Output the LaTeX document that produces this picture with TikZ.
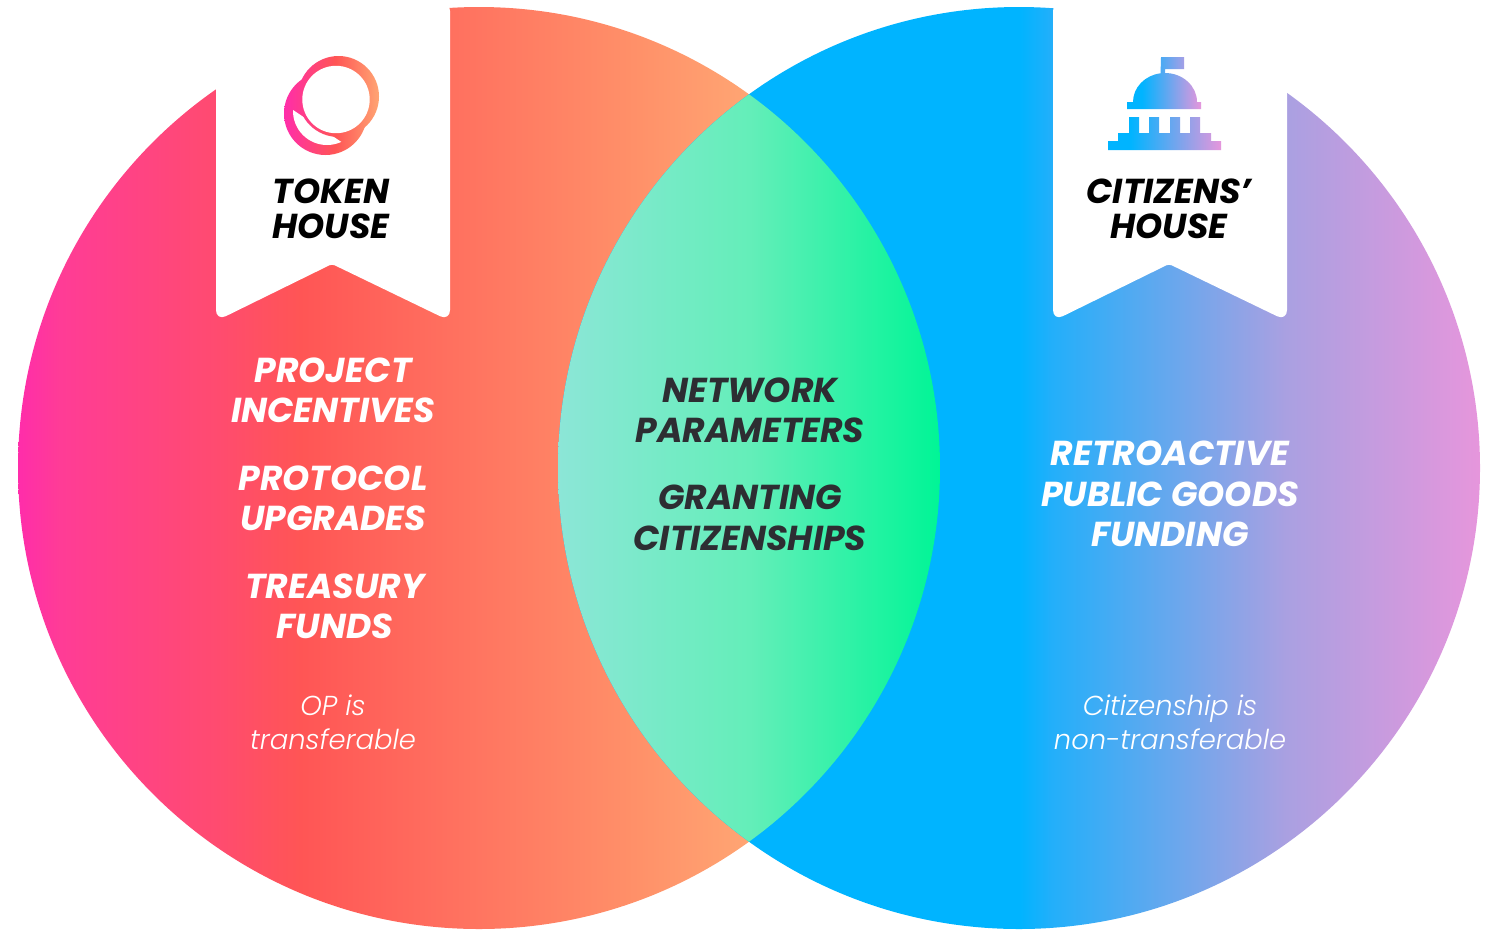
\documentclass[tikz,border=0pt]{standalone}
\usepackage{xcolor}
\usepackage{fontspec}
\setmainfont{Poppins}
\newfontfamily\notefont{Poppins Light}
\definecolor{tokenA}{RGB}{255,45,170}
\definecolor{tokenB}{RGB}{255,60,150}
\definecolor{tokenC}{RGB}{255,75,112}
\definecolor{tokenD}{RGB}{255,85,85}
\definecolor{tokenE}{RGB}{255,112,95}
\definecolor{tokenF}{RGB}{255,145,105}
\definecolor{tokenG}{RGB}{255,165,115}
\definecolor{citizenA}{RGB}{0,180,255}
\definecolor{citizenB}{RGB}{35,175,250}
\definecolor{citizenC}{RGB}{170,160,225}
\definecolor{citizenD}{RGB}{230,150,220}
\definecolor{lensA}{RGB}{140,230,215}
\definecolor{lensB}{RGB}{100,238,185}
\definecolor{lensC}{RGB}{0,245,150}
\definecolor{darktext}{RGB}{45,45,50}
\pgfdeclarehorizontalshading{tokengrad}{100bp}{color(0bp)=(tokenA);color(25bp)=(tokenA);color(27.3bp)=(tokenB);color(35.7bp)=(tokenC);color(40.3bp)=(tokenD);color(48.4bp)=(tokenE);color(58.7bp)=(tokenF);color(64.6bp)=(tokenG);color(100bp)=(tokenG)}
\pgfdeclarehorizontalshading{citizengrad}{100bp}{color(0bp)=(citizenA);color(50bp)=(citizenA);color(51.8bp)=(citizenB);color(64.5bp)=(citizenC);color(75bp)=(citizenD);color(100bp)=(citizenD)}
\pgfdeclarehorizontalshading{lensgrad}{100bp}{color(0bp)=(lensA);color(25bp)=(lensA);color(50bp)=(lensB);color(75bp)=(lensC);color(100bp)=(lensC)}
\pgfdeclarehorizontalshading{ringgrad}{100bp}{color(0bp)=(tokenA);color(25bp)=(tokenA);color(52bp)=(tokenD);color(75bp)=(tokenG);color(100bp)=(tokenG)}
\pgfdeclarehorizontalshading{domegrad}{100bp}{color(0bp)=(citizenA);color(35bp)=(citizenA);color(75bp)=(citizenD);color(100bp)=(citizenD)}
\tikzset{
    banner/.style={fill=white,rounded corners=0.22cm},
    headtext/.style={align=center,text=black,font=\fontsize{19.7}{20}\selectfont\bfseries\itshape},
    bodytext/.style={align=center,text=white,font=\fontsize{19.7}{23}\selectfont\bfseries\itshape},
    midtext/.style={bodytext,text=darktext},
    notetext/.style={align=center,text=white,font=\fontsize{15.6}{19.5}\selectfont\notefont\itshape}
}
\begin{document}
\begin{tikzpicture}[x=0.02cm,y=-0.02cm]
    \useasboundingbox (0,0) rectangle (1496,944);
    \coordinate (tokencenter) at (479,468);
    \coordinate (citizencenter) at (1019,468);
    % the two discs and their overlap
    \shade[shading=tokengrad] (tokencenter) circle (461);
    \shade[shading=citizengrad] (citizencenter) circle (461);
    \begin{scope}
        \clip (tokencenter) circle (461);
        \clip (citizencenter) circle (461);
        \shade[shading=lensgrad] (558,0) rectangle (940,944);
    \end{scope}
    % white flags
    \path[banner] (216,0)--(216,321)[rounded corners=0.06cm]--(332,264)[rounded corners=0.22cm]--(450,321)--(450,0)--cycle;
    \path[banner] (1053,0)--(1053,321)[rounded corners=0.06cm]--(1169,264)[rounded corners=0.22cm]--(1287,321)--(1287,0)--cycle;
    % token logo
    \coordinate (ringback) at (325.5,113.5);
    \coordinate (ringfront) at (338.5,96.5);
    \begin{scope}
        \clip (ringback) circle (41.5);
        \shade[shading=ringgrad] (284,50) rectangle (379,160);
    \end{scope}
    \begin{scope}
        \clip (293,110)--(343,143)--(343,170)--(280,170)--(280,110)--cycle;
        \fill[white] (327,111) circle (34);
    \end{scope}
    \begin{scope}
        \clip (ringfront) circle (40.5);
        \shade[shading=ringgrad] (284,50) rectangle (379,160);
    \end{scope}
    \fill[white] (336,99.5) circle (33.7);
    % capitol logo
    \shade[shading=domegrad] (1161,57)--(1184,57)--(1184,69)--(1165,69)--(1165,73)
        arc[start angle=270,end angle=360,x radius=32,y radius=29]
        --(1201,102)--(1201,109)--(1127,109)--(1127,102)--(1133,102)
        arc[start angle=180,end angle=262,x radius=32,y radius=29]--cycle;
    \shade[shading=domegrad] (1129,117)--(1139,117)--(1139,133)--(1149,133)--(1149,117)--(1159,117)--(1159,133)
        --(1170,133)--(1170,117)--(1180,117)--(1180,133)--(1190,133)--(1190,117)--(1200,117)
        --(1200,133)--(1211,133)--(1211,141)--(1221,141)--(1221,150)--(1108,150)--(1108,141)
        --(1118,141)--(1118,133)--(1129,133)--cycle;
    % texts
    \node[headtext] (tokenhouse) at (331,209) {TOKEN\\HOUSE};
    \node[headtext] (citizenshouse) at (1169,209) {CITIZENS’\\HOUSE};
    \node[bodytext] (incentives) at (333,390) {PROJECT\\INCENTIVES};
    \node[bodytext] (upgrades) at (333,498) {PROTOCOL\\UPGRADES};
    \node[bodytext] (treasury) at (335,606) {TREASURY\\FUNDS};
    \node[midtext] (parameters) at (750,410) {NETWORK\\PARAMETERS};
    \node[midtext] (granting) at (750,518) {GRANTING\\CITIZENSHIPS};
    \node[bodytext] (retro) at (1170,494) {RETROACTIVE\\PUBLIC GOODS\\FUNDING};
    \node[notetext] (opnote) at (333,722) {OP is\\transferable};
    \node[notetext] (citizennote) at (1170,722) {Citizenship is\\non-transferable};
\end{tikzpicture}
\end{document}
